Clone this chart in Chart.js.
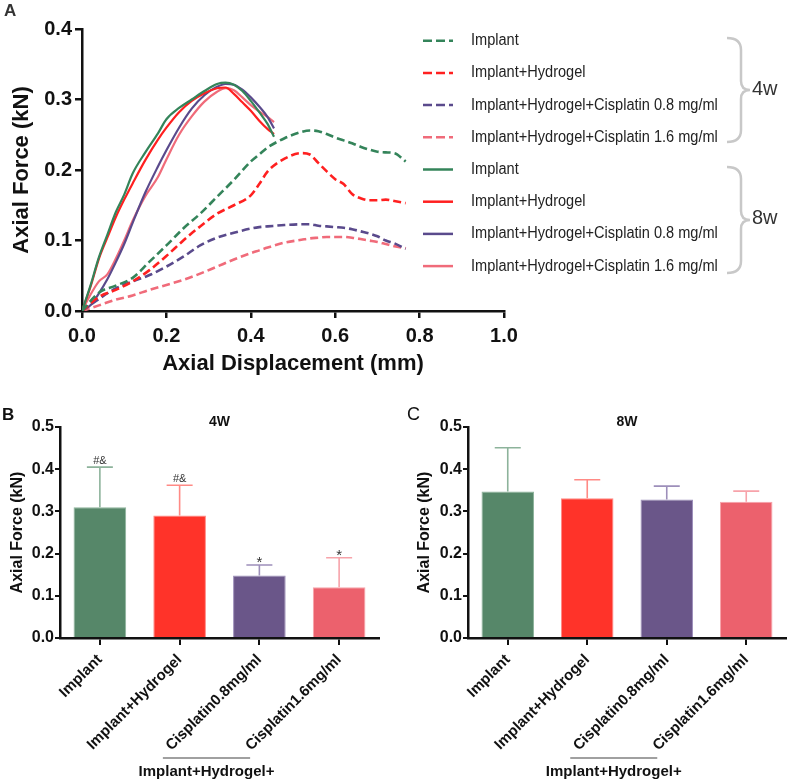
<!DOCTYPE html>
<html>
<head>
<meta charset="utf-8">
<script src="https://cdn.jsdelivr.net/npm/chart.js@4.4.1/dist/chart.umd.min.js"></script>
<style>
  html, body { margin: 0; padding: 0; background: #fff; }
  #wrap { position: relative; width: 789px; height: 781px; overflow: hidden; }
  canvas { position: absolute; }
  #chartA { left: 0; top: 0; }
  #chartB { left: 0; top: 385px; }
  #chartC { left: 390px; top: 385px; }
</style>
</head>
<body>
<div id="wrap">
  <canvas id="chartA" width="789" height="385"></canvas>
  <canvas id="chartB" width="390" height="396"></canvas>
  <canvas id="chartC" width="399" height="396"></canvas>
</div>
<script>
// --- Panel A: load / displacement curves ---
const groupLabels = [
  "Implant",
  "Implant+Hydrogel",
  "Implant+Hydrogel+Cisplatin 0.8 mg/ml",
  "Implant+Hydrogel+Cisplatin 1.6 mg/ml",
];
const weekLabels = ["4w", "8w"];
const lineColors = ["#34845a", "#ff2020", "#5a4a8c", "#f06b7a"];

// 4 weeks (dashed)
const disp4w = [0, 0.04, 0.08, 0.12, 0.16, 0.2, 0.24, 0.28, 0.32, 0.36, 0.4, 0.42, 0.44, 0.48, 0.52, 0.54, 0.56, 0.58, 0.6, 0.62, 0.64, 0.66, 0.68, 0.7, 0.72, 0.74, 0.767];
const force4wImplant = [0, 0.026, 0.036, 0.047, 0.07, 0.093, 0.117, 0.138, 0.162, 0.186, 0.212, 0.222, 0.232, 0.245, 0.254, 0.256, 0.255, 0.251, 0.246, 0.242, 0.238, 0.233, 0.229, 0.226, 0.225, 0.224, 0.212];
const force4wHydrogel = [0, 0.02, 0.03, 0.042, 0.058, 0.078, 0.1, 0.12, 0.138, 0.15, 0.164, 0.18, 0.198, 0.216, 0.224, 0.222, 0.21, 0.198, 0.187, 0.18, 0.166, 0.16, 0.157, 0.157, 0.158, 0.156, 0.153];
const force4wCis08 = [0, 0.017, 0.032, 0.042, 0.051, 0.063, 0.077, 0.093, 0.104, 0.111, 0.117, 0.119, 0.12, 0.122, 0.123, 0.123, 0.121, 0.12, 0.119, 0.118, 0.116, 0.113, 0.11, 0.106, 0.1, 0.096, 0.088];
const force4wCis16 = [0, 0.008, 0.016, 0.022, 0.03, 0.037, 0.044, 0.053, 0.063, 0.073, 0.082, 0.086, 0.09, 0.097, 0.101, 0.103, 0.104, 0.105, 0.105, 0.105, 0.104, 0.102, 0.1, 0.098, 0.095, 0.092, 0.089];

// 8 weeks (solid)
const disp8w = [0, 0.02, 0.04, 0.06, 0.08, 0.1, 0.12, 0.15, 0.18, 0.2, 0.23, 0.26, 0.29, 0.32, 0.34, 0.36, 0.38, 0.4, 0.42, 0.44, 0.455];
const force8wImplant = [0, 0.036, 0.076, 0.108, 0.14, 0.165, 0.195, 0.225, 0.252, 0.272, 0.288, 0.3, 0.312, 0.322, 0.324, 0.321, 0.312, 0.298, 0.282, 0.265, 0.247];
const force8wHydrogel = [0, 0.034, 0.074, 0.104, 0.133, 0.158, 0.181, 0.214, 0.243, 0.26, 0.282, 0.298, 0.309, 0.316, 0.317, 0.308, 0.296, 0.284, 0.27, 0.258, 0.251];
const force8wCis08 = [0, 0.008, 0.025, 0.045, 0.069, 0.095, 0.125, 0.168, 0.205, 0.228, 0.26, 0.287, 0.306, 0.318, 0.322, 0.321, 0.314, 0.303, 0.29, 0.275, 0.259];
const force8wCis16 = [0, 0.023, 0.042, 0.052, 0.074, 0.1, 0.128, 0.163, 0.19, 0.215, 0.25, 0.276, 0.297, 0.311, 0.316, 0.313, 0.303, 0.292, 0.283, 0.275, 0.268];

// --- Panels B / C: peak axial force (mean + SD) ---
const barGroups = ["Implant", "Implant+Hydrogel", "Cisplatin0.8mg/ml", "Cisplatin1.6mg/ml"];
const mean4w = [0.31, 0.29, 0.148, 0.12];
const sd4w = [0.095, 0.072, 0.025, 0.07];
const marks4w = ["#&", "#&", "*", "*"];
const mean8w = [0.347, 0.331, 0.328, 0.323];
const sd8w = [0.104, 0.044, 0.032, 0.025];
const marks8w = ["", "", "", ""];
const barColors = ["#568769", "#ff3329", "#6a5689", "#ec616d"];
const errColors = ["#8db39b", "#ff8a85", "#9d8fba", "#f7a3aa"];

Chart.defaults.font.family = '"Liberation Sans", Arial, sans-serif';
Chart.defaults.color = "#111";

const toPoints = (xs, ys) => xs.map((x, i) => ({ x: x, y: ys[i] }));

function curve(label, xs, ys, color, dashed) {
  return {
    label: label,
    data: toPoints(xs, ys),
    borderColor: color,
    borderWidth: dashed ? 2.6 : 2.2,
    borderDash: dashed ? [8, 4] : [],
    pointRadius: 0,
    fill: false,
    cubicInterpolationMode: "monotone",
  };
}

function drawBrace(ctx, x, y0, y1) {
  const ym = (y0 + y1) / 2;
  ctx.beginPath();
  ctx.moveTo(x, y0);
  ctx.quadraticCurveTo(x + 14, y0, x + 14, y0 + 12);
  ctx.lineTo(x + 14, ym - 9);
  ctx.quadraticCurveTo(x + 14, ym, x + 23, ym);
  ctx.quadraticCurveTo(x + 14, ym, x + 14, ym + 9);
  ctx.lineTo(x + 14, y1 - 12);
  ctx.quadraticCurveTo(x + 14, y1, x, y1);
  ctx.stroke();
}

// legend, braces and panel letter for A
const legendA = {
  id: "legendA",
  afterDraw(chart) {
    const ctx = chart.ctx;
    ctx.save();
    chart.data.datasets.forEach((ds, i) => {
      const y = 40.7 + i * 32.2;
      ctx.strokeStyle = ds.borderColor;
      ctx.lineWidth = 2.5;
      ctx.setLineDash(ds.borderDash.length ? [9, 4] : []);
      ctx.beginPath();
      ctx.moveTo(423, y);
      ctx.lineTo(453, y);
      ctx.stroke();
      ctx.setLineDash([]);
      ctx.fillStyle = "#222";
      ctx.font = '16px "Liberation Sans", Arial';
      ctx.textBaseline = "middle";
      ctx.save();
      ctx.translate(471, y);
      ctx.scale(0.91, 1);
      ctx.fillText(ds.label, 0, 0);
      ctx.restore();
    });
    ctx.strokeStyle = "#c8c8c8";
    ctx.lineWidth = 2.5;
    drawBrace(ctx, 727, 38, 142);
    drawBrace(ctx, 727, 167, 273);
    ctx.fillStyle = "#333";
    ctx.font = '20px "Liberation Sans", Arial';
    ctx.textBaseline = "middle";
    ctx.fillText(weekLabels[0], 752, 89);
    ctx.fillText(weekLabels[1], 752, 218);
    ctx.font = 'bold 17px "Liberation Sans", Arial';
    ctx.fillText("A", 4, 11);
    ctx.restore();
  },
};

new Chart(document.getElementById("chartA"), {
  type: "line",
  data: {
    datasets: [
      curve(groupLabels[0], disp4w, force4wImplant, lineColors[0], true),
      curve(groupLabels[1], disp4w, force4wHydrogel, lineColors[1], true),
      curve(groupLabels[2], disp4w, force4wCis08, lineColors[2], true),
      curve(groupLabels[3], disp4w, force4wCis16, lineColors[3], true),
      curve(groupLabels[0], disp8w, force8wImplant, lineColors[0], false),
      curve(groupLabels[1], disp8w, force8wHydrogel, lineColors[1], false),
      curve(groupLabels[2], disp8w, force8wCis08, lineColors[2], false),
      curve(groupLabels[3], disp8w, force8wCis16, lineColors[3], false),
    ],
  },
  options: {
    responsive: false,
    animation: false,
    layout: { padding: { left: 0, top: 29, right: 285, bottom: 0 } },
    plugins: { legend: { display: false }, tooltip: { enabled: false } },
    scales: {
      x: {
        type: "linear",
        min: 0,
        max: 1.0,
        ticks: { stepSize: 0.2, padding: 6, callback: (v) => v.toFixed(1), font: { size: 20, weight: "bold" } },
        grid: { drawOnChartArea: false, drawTicks: true, tickLength: 7, color: "#111", lineWidth: 2.5 },
        border: { color: "#111", width: 2.5 },
        title: { display: true, text: "Axial Displacement (mm)", font: { size: 22, weight: "bold" }, padding: { top: 9, bottom: 8 } },
        afterFit: (s) => { s.height = 74; },
      },
      y: {
        min: 0,
        max: 0.4,
        ticks: { stepSize: 0.1, padding: 3, callback: (v) => v.toFixed(1), font: { size: 20, weight: "bold" } },
        grid: { drawOnChartArea: false, drawTicks: true, tickLength: 7, color: "#111", lineWidth: 2.5 },
        border: { color: "#111", width: 2.5 },
        title: { display: true, text: "Axial Force (kN)", font: { size: 22, weight: "bold" }, padding: { top: 9, bottom: 9 } },
        afterFit: (s) => { s.width = 82; },
      },
    },
  },
  plugins: [legendA],
});

// error bars, marks, titles, bracket for the bar panels
const barExtras = {
  id: "barExtras",
  afterDatasetsDraw(chart, args, opts) {
    const ctx = chart.ctx;
    const y = chart.scales.y;
    const x = chart.scales.x;
    const ds = chart.data.datasets[0];
    const meta = chart.getDatasetMeta(0);
    ctx.save();
    meta.data.forEach((bar, i) => {
      const top = y.getPixelForValue(ds.data[i] + opts.sd[i]);
      ctx.strokeStyle = errColors[i];
      ctx.lineWidth = 1.6;
      ctx.beginPath();
      ctx.moveTo(bar.x, bar.y);
      ctx.lineTo(bar.x, top);
      ctx.moveTo(bar.x - 13, top);
      ctx.lineTo(bar.x + 13, top);
      ctx.stroke();
      const m = opts.marks[i];
      if (m) {
        ctx.fillStyle = "#333";
        ctx.textAlign = "center";
        ctx.textBaseline = "alphabetic";
        if (m === "*") {
          ctx.font = '15px "Liberation Sans", Arial';
          ctx.fillText(m, bar.x, top + 2);
        } else {
          ctx.font = '11px "Liberation Sans", Arial';
          ctx.fillText(m, bar.x, top - 3);
        }
      }
    });
    const area = chart.chartArea;
    ctx.fillStyle = "#111";
    ctx.textAlign = "center";
    ctx.textBaseline = "middle";
    ctx.font = 'bold 14px "Liberation Sans", Arial';
    ctx.fillText(opts.title, (area.left + area.right) / 2, area.top - 5);
    // group bracket under the cisplatin labels
    const x0 = x.getPixelForValue(2) - 96.5;
    const x1 = x.getPixelForValue(3) - 89;
    ctx.strokeStyle = "#808080";
    ctx.lineWidth = 1.5;
    ctx.beginPath();
    ctx.moveTo(x0, 373);
    ctx.lineTo(x1, 373);
    ctx.stroke();
    ctx.font = 'bold 15px "Liberation Sans", Arial';
    ctx.fillText("Implant+Hydrogel+", (x0 + x1) / 2, 387);
    ctx.textAlign = "left";
    ctx.font = opts.letterFont;
    ctx.fillText(opts.letter, opts.letterX, 30);
    ctx.restore();
  },
};

function barChart(id, means, sds, marks, title, letter, letterX, letterFont, yWidth, titlePad, padRight) {
  return new Chart(document.getElementById(id), {
    type: "bar",
    data: {
      labels: barGroups,
      datasets: [
        {
          data: means,
          backgroundColor: barColors,
          borderColor: errColors,
          borderWidth: 1,
          barPercentage: 0.66,
          categoryPercentage: 1,
        },
      ],
    },
    options: {
      responsive: false,
      animation: false,
      layout: { padding: { left: 0, top: 42, right: padRight, bottom: 0 } },
      plugins: {
        legend: { display: false },
        tooltip: { enabled: false },
        barExtras: { sd: sds, marks: marks, title: title, letter: letter, letterX: letterX, letterFont: letterFont },
      },
      scales: {
        x: {
          ticks: { autoSkip: false, minRotation: 45, maxRotation: 45, padding: 6, font: { size: 15, weight: "bold" } },
          grid: { offset: false, drawOnChartArea: false, drawTicks: true, tickLength: 7, color: "#111", lineWidth: 2 },
          border: { color: "#111", width: 2.5 },
          afterFit: (s) => { s.height = 143; },
        },
        y: {
          min: 0,
          max: 0.5,
          ticks: { stepSize: 0.1, padding: 1, callback: (v) => v.toFixed(1), font: { size: 16, weight: "bold" } },
          grid: { drawOnChartArea: false, drawTicks: true, tickLength: 5, color: "#111", lineWidth: 2 },
          border: { color: "#111", width: 2.5 },
          title: { display: true, text: "Axial Force (kN)", font: { size: 16, weight: "bold" }, padding: { top: titlePad, bottom: 0 } },
          afterFit: (s) => { s.width = yWidth; },
        },
      },
    },
    plugins: [barExtras],
  });
}

barChart("chartB", mean4w, sd4w, marks4w, "4W", "B", 2, 'bold 17px "Liberation Sans", Arial', 60, 8, 11);
barChart("chartC", mean8w, sd8w, marks8w, "8W", "C", 17, '18px "Liberation Sans", Arial', 78, 25, 3);
</script>
</body>
</html>
